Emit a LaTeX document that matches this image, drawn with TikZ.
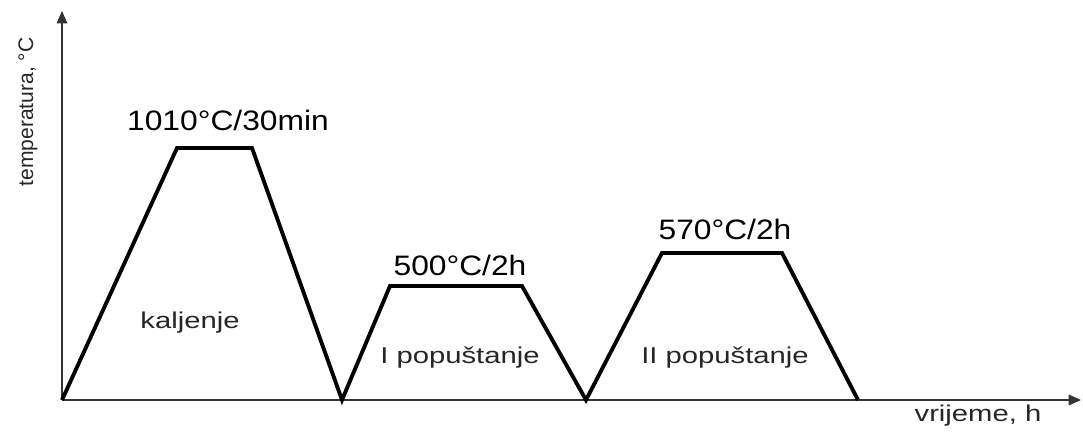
\documentclass[tikz,border=0pt]{standalone}
\usepackage{fontspec}
\setmainfont{Liberation Sans}
\usetikzlibrary{arrows.meta}

\tikzset{
    axis/.style={line width=0.8pt, draw=black!80, -{Triangle[length=7pt,width=6pt]}},
    cycle/.style={line width=2.2pt, line join=miter},
    temp/.style={font=\fontsize{16}{19}\selectfont, xscale=1.13, transform shape},
    stage/.style={font=\fontsize{13}{16}\selectfont, xscale=1.28, transform shape, text=black!85}
}

\begin{document}
\begin{tikzpicture}[x=0.02cm, y=0.02cm]
    \useasboundingbox (0,0) rectangle (1083,432);

    % Axes
    \coordinate (O) at (62,32);
    \coordinate (ytop) at (62,421);
    \coordinate (xend) at (1081,32);
    \draw [axis] (O) -- (ytop);
    \draw [axis] (O) -- (xend);

    % Points of the heat treatment cycle
    \coordinate (a1) at (177,284);
    \coordinate (a2) at (252,284);
    \coordinate (b0) at (342,32);
    \coordinate (b1) at (390,146);
    \coordinate (b2) at (522,146);
    \coordinate (c0) at (586,32);
    \coordinate (c1) at (662,179);
    \coordinate (c2) at (782,179);
    \coordinate (d0) at (858,32);
    \draw [cycle] (O) -- (a1) -- (a2) -- (b0) -- (b1) -- (b2) -- (c0) -- (c1) -- (c2) -- (d0);

    % Node Labels
    \node [temp] (t1) at (228,312) {1010°C/30min};
    \node [temp] (t2) at (460,167) {500°C/2h};
    \node [temp] (t3) at (725,203) {570°C/2h};
    \node [stage] (s1) at (190,109) {kaljenje};
    \node [stage] (s2) at (460,74) {I popuštanje};
    \node [stage] (s3) at (725,74) {II popuštanje};
    \node [stage] (xlab) at (978,16) {vrijeme, h};
    \node [font=\fontsize{12}{14}\selectfont, rotate=90, text=black!85] (ylab) at (28,320) {temperatura, °C};
\end{tikzpicture}
\end{document}
